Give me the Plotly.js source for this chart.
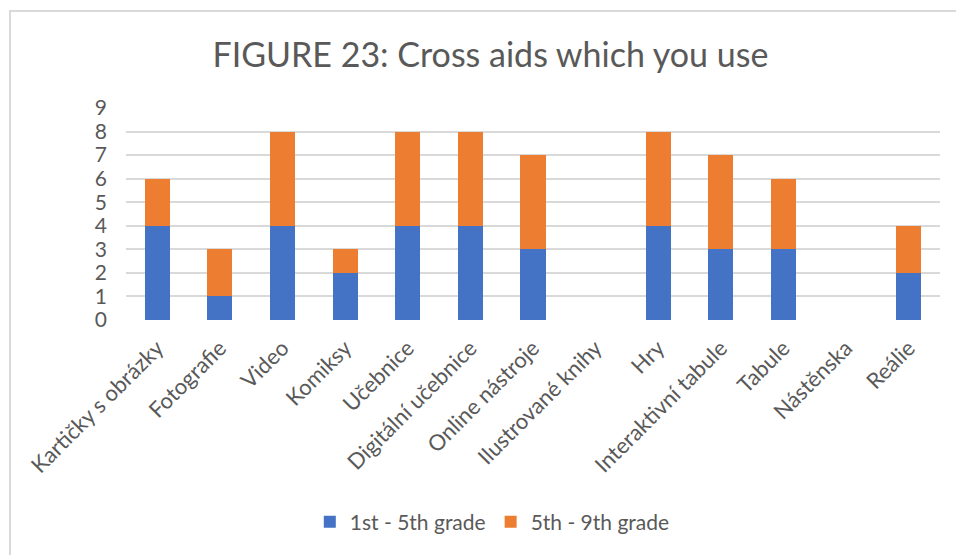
<!DOCTYPE html>
<html>
<head>
<meta charset="utf-8">
<script src="https://cdn.plot.ly/plotly-3.0.1.min.js"></script>
<style>
  body { margin: 0; background: #fff; }
  #wrap { position: relative; width: 956px; height: 555px; overflow: hidden; }
  #graph { position: absolute; left: 0; top: 0; width: 956px; height: 555px; }
  #frame { position: absolute; left: 9px; top: 10px; width: 980px; height: 600px;
           border: 2px solid #d9d9d9; pointer-events: none; }
</style>
</head>
<body>
<div id="wrap">
  <div id="graph"></div>
  <div id="frame"></div>
</div>
<script>
// Data dari grafik
const kategori = ['Kartičky s obrázky', 'Fotografie', 'Video', 'Komiksy', 'Učebnice',
  'Digitální učebnice', 'Online nástroje', 'Ilustrované knihy', 'Hry',
  'Interaktivní tabule', 'Tabule', 'Nástěnska', 'Reálie'];
const nizsi = [4, 1, 4, 2, 4, 4, 3, 0, 4, 3, 3, 0, 2];   // 1st - 5th grade
const vyssi = [2, 2, 4, 1, 4, 4, 4, 0, 4, 4, 3, 0, 2];   // 5th - 9th grade
const yTicks = [0, 1, 2, 3, 4, 5, 6, 7, 8, 9];

document.addEventListener('DOMContentLoaded', function() {
    const font = 'Lato, "Open Sans", sans-serif';
    const textColor = '#595959';

    const traces = [
        { x: kategori, y: nizsi, type: 'bar', name: '1st - 5th grade',
          marker: { color: '#4472c4' } },
        { x: kategori, y: vyssi, type: 'bar', name: '5th - 9th grade',
          marker: { color: '#ed7d31' } }
    ];

    const layout = {
        width: 956,
        height: 555,
        barmode: 'stack',
        bargap: 0.6,
        title: {
            text: 'FIGURE 23: Cross aids which you use',
            font: { family: font, size: 34, color: textColor },
            x: 0.513, xanchor: 'center',
            y: 0.9, yref: 'container', yanchor: 'middle'
        },
        xaxis: {
            tickangle: -45,
            tickfont: { family: font, size: 22, color: textColor },
            showgrid: false,
            ticks: '',
            ticklabelstandoff: 10,
            fixedrange: true
        },
        yaxis: {
            range: [0, 9],
            tickvals: yTicks,
            tickfont: { family: font, size: 21, color: textColor },
            gridcolor: '#d9d9d9',
            gridwidth: 2,
            zeroline: false,
            ticks: '',
            ticklabelstandoff: 18,
            fixedrange: true
        },
        legend: {
            orientation: 'h',
            x: 0.45, xanchor: 'center',
            y: -0.953, yanchor: 'middle',
            font: { family: font, size: 21, color: textColor },
            traceorder: 'normal'
        },
        margin: { l: 126, r: 16, t: 108, b: 235 },
        paper_bgcolor: '#fff',
        plot_bgcolor: '#fff',
        showlegend: true
    };

    Plotly.newPlot('graph', traces, layout, { displayModeBar: false, staticPlot: true });
});
</script>
</body>
</html>
